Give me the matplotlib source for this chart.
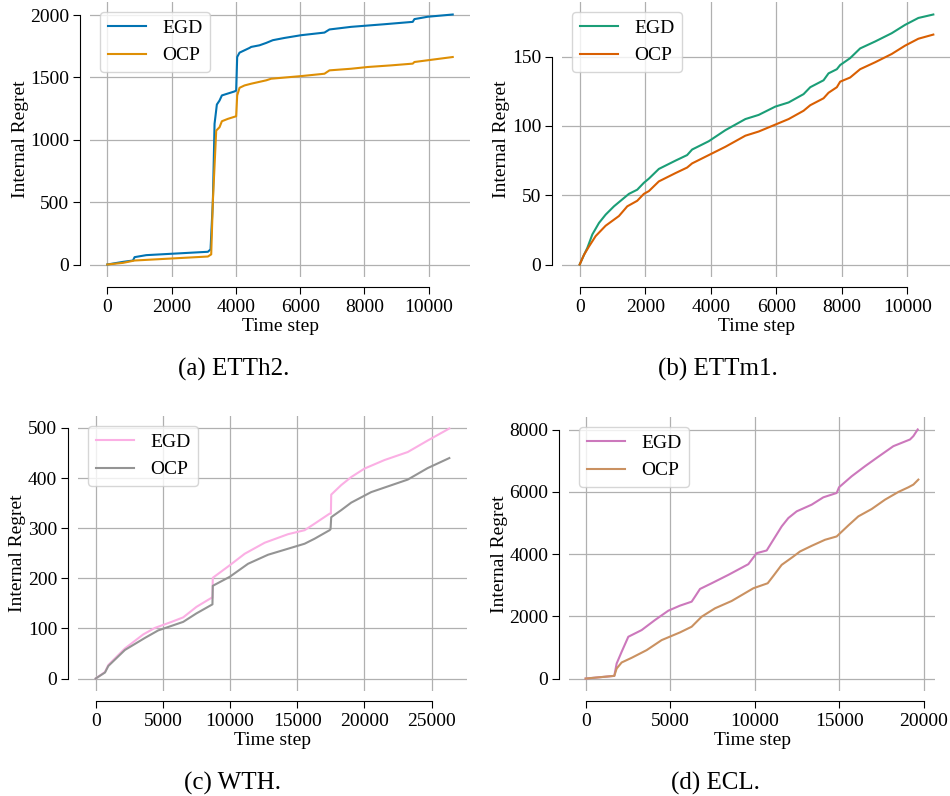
import matplotlib
matplotlib.use("Agg")
import matplotlib.pyplot as plt
import seaborn as sns

plt.rcParams['font.family'] = 'serif'
plt.rcParams['font.serif'] = ['Liberation Serif', 'DejaVu Serif']
plt.rcParams['font.size'] = 14

# (a) ETTh2
etth2_egd_t = [0, 487, 800, 850, 1212, 3130, 3212, 3285, 3337, 3409, 3492, 3565, 3959, 4010, 4041, 4114,
               4269, 4425, 4477, 4736, 4943, 5150, 5513, 6031, 6756, 6912, 7585, 8622, 9502, 9554, 9969, 10746]
etth2_egd = [0, 21, 32, 59, 75, 102, 121, 510, 1128, 1283, 1315, 1356, 1388, 1396, 1664, 1699,
             1718, 1737, 1745, 1758, 1777, 1799, 1817, 1839, 1860, 1885, 1906, 1927, 1946, 1968, 1987, 2005]
etth2_ocp_t = [0, 487, 850, 3130, 3233, 3285, 3389, 3492, 3565, 3751, 4010, 4041, 4114, 4269, 4477,
               4943, 5098, 6031, 6756, 6912, 7585, 8104, 8829, 9502, 9554, 9969, 10746]
etth2_ocp = [0, 13, 32, 64, 81, 510, 1074, 1101, 1149, 1168, 1189, 1356, 1417, 1436, 1450,
             1477, 1490, 1511, 1530, 1557, 1570, 1584, 1597, 1611, 1624, 1638, 1664]

# (b) ETTm1
ettm1_egd_t = [0, 132, 234, 386, 589, 792, 1046, 1249, 1503, 1756, 1959, 2112, 2416, 2924, 3279, 3431,
               3939, 4447, 5056, 5462, 5970, 6376, 6832, 7036, 7442, 7594, 7848, 7949, 8254, 8558,
               9015, 9523, 9929, 10335, 10792]
ettm1_egd = [0, 7, 12, 21.7, 30, 36, 42, 46, 51, 54, 59, 62, 69, 75, 79, 83,
             89, 97, 105, 108, 114, 117, 123, 128, 133, 138, 141, 144, 149, 156,
             161, 167, 173, 178, 180.5]
ettm1_ocp_t = [0, 132, 284, 487, 792, 1198, 1452, 1756, 1959, 2112, 2416, 2924, 3279, 3431, 3939,
               4447, 5056, 5462, 5970, 6376, 6832, 7036, 7442, 7594, 7848, 7949, 8254, 8558, 9015,
               9523, 9929, 10335, 10792]
ettm1_ocp = [0, 7, 13, 20.5, 28, 35, 42, 46, 51, 53, 60, 66, 70, 73, 79,
             85, 93, 96, 101, 105, 111, 115, 120, 124, 128, 132, 135, 141, 146,
             152, 158, 163, 166]

# (c) WTH
wth_egd_t = [0, 693, 941, 2178, 3540, 4406, 5644, 6510, 7500, 8614, 8688, 8713, 9975, 11089, 12574,
             14307, 15545, 16287, 17401, 17500, 17525, 18267, 19010, 20000, 21485, 23218, 24703, 26312]
wth_egd = [0, 13, 27, 60, 88, 101, 113, 122, 143, 161, 161, 201, 226, 249, 271,
           288, 296, 309, 329, 329, 367, 386, 402, 419, 436, 452, 475, 499]
wth_ocp_t = [0, 693, 941, 2178, 3663, 4653, 6510, 7500, 8688, 8713, 9975, 11337, 12822, 14307,
             15545, 16287, 17401, 17475, 17525, 18267, 19010, 20495, 23218, 24703, 26312]
wth_ocp = [0, 12, 25, 57, 81, 96, 113, 130, 148, 185, 203, 229, 247, 259,
           269, 279, 296, 298, 322, 336, 351, 372, 397, 420, 440]

# (d) ECL
ecl_egd_t = [0, 1695, 1833, 2128, 2522, 3310, 4098, 4887, 5576, 6266, 6463, 6759, 7448, 8433, 9616,
             10108, 10700, 11094, 11586, 11980, 12473, 13360, 14049, 14837, 14975, 15724, 16512,
             17202, 18187, 19172, 19369, 19626]
ecl_egd = [0, 86, 483, 859, 1342, 1557, 1880, 2180, 2342, 2470, 2631, 2878, 3061, 3330, 3674,
           4028, 4114, 4458, 4887, 5156, 5371, 5586, 5822, 5961, 6144, 6498, 6821,
           7089, 7465, 7680, 7787, 8002]
ecl_ocp_t = [0, 1695, 1833, 2128, 2719, 3606, 4493, 5576, 6266, 6857, 7645, 8631, 9911, 10759,
             11094, 11586, 12276, 12670, 13360, 14148, 14837, 15527, 16118, 16906, 17695, 18483,
             19074, 19369, 19665]
ecl_ocp = [0, 86, 322, 516, 666, 913, 1235, 1482, 1665, 1987, 2256, 2492, 2900, 3061,
           3297, 3652, 3920, 4082, 4264, 4458, 4565, 4919, 5210, 5446, 5747, 5994,
           6144, 6230, 6391]

W, H = 950, 796
fig = plt.figure(figsize=(W / 100, H / 100), dpi=100)


def box(x0, y0, x1, y1):
    # pixel box -> figure fraction
    return [x0 / W, 1 - y1 / H, (x1 - x0) / W, (y1 - y0) / H]


panels = [
    (box(90, 2, 470, 277), etth2_egd_t, etth2_egd, etth2_ocp_t, etth2_ocp, '#0173b2', '#de8f05',
     '(a) ETTh2.', 234, 369),
    (box(562, 2, 951, 277), ettm1_egd_t, ettm1_egd, ettm1_ocp_t, ettm1_ocp, '#1b9e77', '#d95f02',
     '(b) ETTm1.', 718, 369),
    (box(78, 416, 467, 691), wth_egd_t, wth_egd, wth_ocp_t, wth_ocp, '#fbafe4', '#949494',
     '(c) WTH.', 232, 783),
    (box(569, 417, 935, 691), ecl_egd_t, ecl_egd, ecl_ocp_t, ecl_ocp, '#cc78bc', '#ca9161',
     '(d) ECL.', 715, 783),
]

for pos, et, ey, ot, oy, c1, c2, cap, cx, cy in panels:
    ax = fig.add_axes(pos)
    ax.plot(et, ey, color=c1, lw=1.5, label='EGD')
    ax.plot(ot, oy, color=c2, lw=1.5, label='OCP')
    ax.grid(True, color='#b0b0b0', lw=0.9)
    ax.set_xlabel('Time step', labelpad=1)
    ax.set_ylabel('Internal Regret', labelpad=1)
    ax.tick_params(labelsize=14, length=5)
    ax.tick_params(axis='y', pad=2.5)
    ax.legend(loc='upper left', fontsize=14)
    sns.despine(ax=ax, offset=7.5, trim=True)
    fig.text(cx / W, 1 - cy / H, cap, ha='center', va='center', fontsize=18)

plt.savefig('out.png', dpi=100)
